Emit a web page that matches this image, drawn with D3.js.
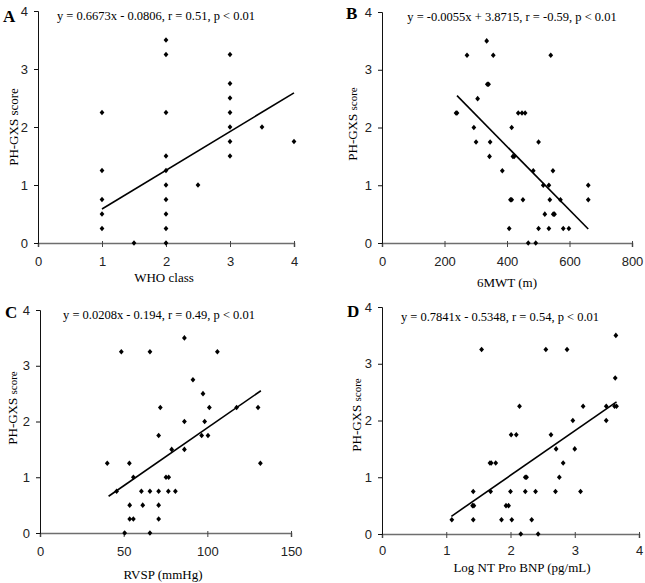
<!DOCTYPE html>
<html>
<head>
<meta charset="utf-8">
<script src="https://cdn.jsdelivr.net/npm/d3@7"></script>
<style>
  body { margin: 0; background: #fff; }
  svg { display: block; }
</style>
</head>
<body>
<svg id="chart" width="645" height="583"></svg>
<script>
// ---------- DATA ----------
const yTicks = [0, 1, 2, 3, 4];

// Panel A: WHO class
const aX = [1, 1, 1, 1, 1, 1.5, 2, 2, 2, 2, 2, 2, 2, 2, 2, 2, 2.5, 3, 3, 3, 3, 3, 3, 3, 3.5, 4];
const aY = [2.25, 1.25, 0.75, 0.5, 0.25, 0, 3.5, 3.25, 2.25, 1.5, 1.25, 1.0, 0.75, 0.5, 0.25, 0, 1.0, 3.25, 2.75, 2.5, 2.25, 2.0, 1.75, 1.5, 2.0, 1.75];
const aTicks = [0, 1, 2, 3, 4];
const aFit = { slope: 0.6673, intercept: -0.0806, from: 1, to: 4 };

// Panel B: 6MWT
const bX = [237, 240, 272, 335, 356, 337, 341, 306, 294, 301, 346, 344, 385, 415, 411, 415, 407, 419, 423, 436, 448, 458, 451, 468, 492, 501, 484, 501, 516, 521, 534, 537, 534, 540, 547, 548, 552, 571, 580, 598, 660, 660];
const bY = [2.25, 2.25, 3.25, 3.5, 3.25, 2.75, 2.75, 2.5, 2.0, 1.75, 1.75, 1.5, 1.25, 2.0, 0.75, 0.75, 0.25, 1.5, 1.5, 2.25, 2.25, 2.25, 0.75, 0, 0, 1.75, 1.25, 0.25, 1.0, 0.5, 1.0, 0.75, 0.25, 3.25, 1.25, 0.5, 0.5, 0.75, 0.25, 0.25, 1.0, 0.75];
const bTicks = [0, 200, 400, 600, 800];
const bFit = { slope: -0.0055, intercept: 3.8715, from: 240, to: 660 };

// Panel C: RVSP
const cX = [40.2, 45.8, 48.6, 50.6, 53.4, 53.6, 53.6, 55.8, 55.8, 61.4, 60.6, 65.7, 65.7, 65.7, 71.9, 70.9, 70.9, 70.9, 70.9, 75.3, 76.7, 76.9, 78.7, 80.9, 86.3, 86.3, 86.3, 91.4, 97.4, 96.6, 98.4, 100.4, 101.2, 106, 117.5, 130.3, 131.7];
const cY = [1.25, 0.75, 3.25, 0, 1.25, 0.5, 0.25, 0.25, 1.0, 0.5, 0.75, 3.25, 0.75, 0, 2.25, 1.75, 0.75, 0.5, 0.25, 1.0, 0.75, 1.0, 1.5, 0.75, 3.5, 2.0, 1.5, 2.75, 2.5, 1.75, 2.0, 1.75, 2.25, 3.25, 2.25, 2.25, 1.25];
const cTicks = [0, 50, 100, 150];
const cFit = { slope: 0.0208, intercept: -0.194, from: 41, to: 132 };

// Panel D: Log NT Pro BNP
const dX = [1.087, 1.42, 1.41, 1.43, 1.42, 1.55, 1.68, 1.70, 1.77, 1.69, 1.86, 1.93, 1.97, 2.01, 2.09, 2.00, 2.02, 2.14, 2.16, 2.23, 2.23, 2.25, 2.33, 2.39, 2.43, 2.55, 2.63, 2.71, 2.70, 2.76, 2.82, 2.88, 2.97, 3.00, 3.09, 3.13, 3.49, 3.49, 3.64, 3.63, 3.62, 3.65];
const dY = [0.25, 0.75, 0.5, 0.5, 0.25, 3.25, 1.25, 1.25, 1.25, 0.75, 0.25, 0.5, 0.5, 1.75, 1.75, 0.75, 0.25, 2.25, 0, 0.75, 1.0, 1.0, 0.25, 0.75, 0, 3.25, 1.75, 1.5, 0.75, 1.0, 1.25, 3.25, 2.0, 1.5, 0.75, 2.25, 2.25, 2.0, 3.5, 2.75, 2.25, 2.25];
const dTicks = [0, 1, 2, 3, 4];
const dFit = { slope: 0.7841, intercept: -0.5348, from: 1.08, to: 3.65 };

// Text
const panelLabels = ["A", "B", "C", "D"];
const equations = [
  "y = 0.6673x - 0.0806, r = 0.51, p < 0.01",
  "y = -0.0055x + 3.8715, r = -0.59, p < 0.01",
  "y = 0.0208x - 0.194, r = 0.49, p < 0.01",
  "y = 0.7841x - 0.5348, r = 0.54, p < 0.01"
];
const xTitles = ["WHO class", "6MWT (m)", "RVSP (mmHg)", "Log NT Pro BNP (pg/mL)"];
const yTitleMain = "PH-GXS";
const yTitleSub = "score";

// ---------- LAYOUT ----------
const panels = [
  { xs: aX, ys: aY, ticks: aTicks, fit: aFit, left: 38, right: 294, top: 11, bottom: 243, pad: 10,
    lab: [3, 22], eq: [156, 20], xt: [164, 282], yt: [18, 127], smallScore: false },
  { xs: bX, ys: bY, ticks: bTicks, fit: bFit, left: 382, right: 632, top: 12, bottom: 243, pad: 10,
    lab: [346, 19], eq: [512, 21], xt: [507, 287], yt: [357, 124], smallScore: true },
  { xs: cX, ys: cY, ticks: cTicks, fit: cFit, left: 40, right: 291, top: 310, bottom: 533, pad: 10,
    lab: [5, 318], eq: [159, 319], xt: [163, 579], yt: [17, 408], smallScore: true },
  { xs: dX, ys: dY, ticks: dTicks, fit: dFit, left: 382, right: 639, top: 307, bottom: 534, pad: 8,
    lab: [347, 317], eq: [500, 321], xt: [522, 572], yt: [361, 415], smallScore: true }
];

const svg = d3.select("#chart");
const serif = "'Liberation Serif', 'Times New Roman', serif";
const sans = "'Liberation Sans Narrow', 'Liberation Sans', Arial, sans-serif";

panels.forEach((p, i) => {
  const tickVals = p.ticks;
  const x = d3.scaleLinear().domain([tickVals[0], tickVals[tickVals.length - 1]]).range([p.left, p.right]);
  const y = d3.scaleLinear().domain([0, 4]).range([p.bottom, p.top]);
  const g = svg.append("g");

  // x axis
  const xa = g.append("g").attr("transform", `translate(0,${p.bottom})`)
    .call(d3.axisBottom(x).tickValues(tickVals).tickSize(4).tickPadding(p.pad).tickFormat(d3.format("d")));
  xa.select(".domain").attr("stroke", "#6e6e6e").attr("stroke-width", 1.6);
  xa.selectAll(".tick line").attr("stroke", "#444").attr("y1", -2);
  xa.selectAll("text").attr("font-family", sans).attr("font-size", 13).attr("fill", "#222");

  // y axis
  const ya = g.append("g").attr("transform", `translate(${p.left},0)`)
    .call(d3.axisLeft(y).tickValues(yTicks).tickSize(4).tickPadding(6).tickFormat(d3.format("d")));
  ya.select(".domain").attr("stroke", "#111").attr("stroke-width", 1);
  ya.selectAll(".tick line").attr("stroke", "#111");
  ya.selectAll("text").attr("font-family", sans).attr("font-size", 13).attr("fill", "#222");

  // regression line
  const fitData = [p.fit.from, p.fit.to].map(v => [v, p.fit.slope * v + p.fit.intercept]);
  g.append("path")
    .datum(fitData)
    .attr("d", d3.line().x(d => x(d[0])).y(d => y(d[1])))
    .attr("stroke", "#000").attr("stroke-width", 1.6).attr("fill", "none");

  // points
  const pts = p.xs.map((v, k) => [v, p.ys[k]]);
  const diamond = {
    draw(ctx, size) {
      const w = 2.4, h = 2.8;
      ctx.moveTo(0, -h); ctx.lineTo(w, 0); ctx.lineTo(0, h); ctx.lineTo(-w, 0); ctx.closePath();
    }
  };
  g.selectAll(".pt").data(pts).join("path")
    .attr("class", "pt")
    .attr("transform", d => `translate(${x(d[0])},${y(d[1])})`)
    .attr("d", d3.symbol().type(diamond).size(20))
    .attr("fill", "#000");

  // panel label
  g.append("text").attr("x", p.lab[0]).attr("y", p.lab[1])
    .attr("font-family", serif).attr("font-weight", "bold").attr("font-size", 17)
    .text(panelLabels[i]);

  // equation
  g.append("text").attr("x", p.eq[0]).attr("y", p.eq[1]).attr("text-anchor", "middle")
    .attr("font-family", serif).attr("font-size", 12.5)
    .text(equations[i]);

  // x title
  g.append("text").attr("x", p.xt[0]).attr("y", p.xt[1]).attr("text-anchor", "middle")
    .attr("font-family", serif).attr("font-size", 13)
    .text(xTitles[i]);

  // y title
  const yt = g.append("text")
    .attr("transform", `translate(${p.yt[0]},${p.yt[1]}) rotate(-90)`)
    .attr("text-anchor", "middle")
    .attr("font-family", serif).attr("font-size", 13);
  yt.append("tspan").text(yTitleMain + " ");
  yt.append("tspan").attr("font-size", p.smallScore ? 11 : 13).text(yTitleSub);
});
</script>
</body>
</html>
